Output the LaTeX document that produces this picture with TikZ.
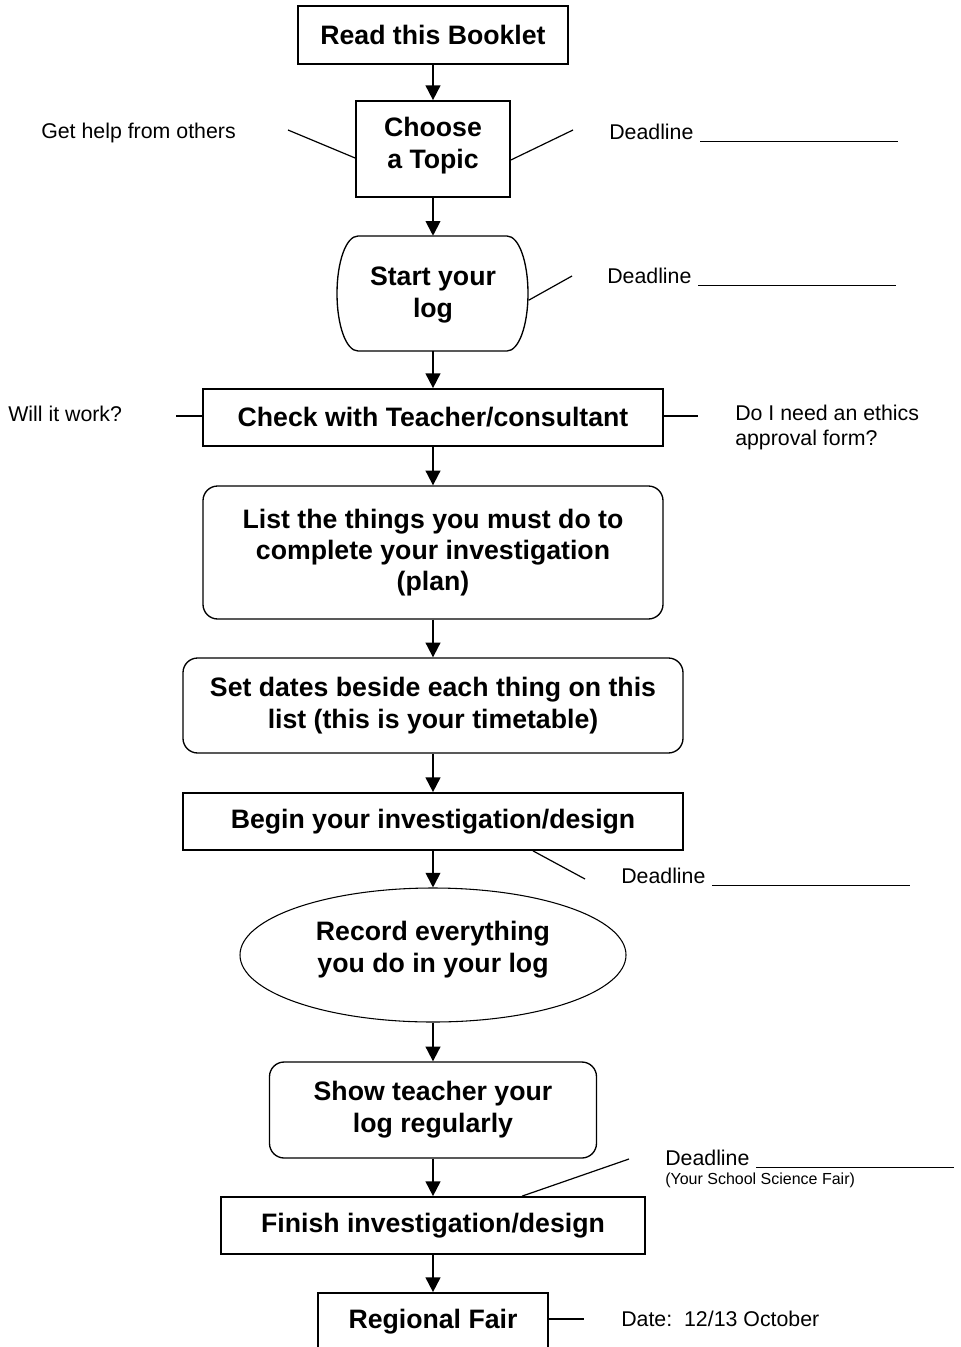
\documentclass[tikz,border=0pt]{standalone}
\usepackage{fontspec}
\setmainfont{Liberation Sans}
\usetikzlibrary{arrows.meta,shapes.geometric}

\begin{document}
\begin{tikzpicture}[x=0.75pt,y=-0.75pt,
    stepbox/.style={draw,line width=1.3pt,inner sep=0pt,align=center,
        font=\bfseries\fontsize{20}{24}\selectfont},
    roundbox/.style={stepbox,rounded corners=11pt,line width=1pt},
    boxtext/.style={inner sep=0pt,align=center,font=\bfseries\fontsize{20}{24}\selectfont},
    note/.style={inner sep=0pt,anchor=west,align=left,
        font=\fontsize{16}{18.75}\selectfont},
    arr/.style={line width=1.4pt,-{Triangle[length=11pt,width=11pt]}},
    tick/.style={line width=0.9pt},
    uline/.style={line width=1.2pt}]

    \clip (0,0) rectangle (961,1347);

    \node[stepbox,minimum width=202.5pt,minimum height=43.5pt] (read) at (433,35) {Read this Booklet};
    \node[stepbox,minimum width=115.5pt,minimum height=72pt] (choose) at (433,149) {};
    \node[boxtext] (choosetext) at (433,146) {Choose\\a Topic};
    \node[boxtext,minimum width=143.25pt,minimum height=86.25pt] (start) at (433,293.5) {};
    \node[boxtext] (starttext) at (433,295.5) {Start your\\log};
    \draw[line width=1pt] (358,236) -- (507,236) .. controls (519,236) and (528,262) .. (528,293.5)
        .. controls (528,325) and (519,351) .. (507,351) -- (358,351)
        .. controls (346,351) and (337,325) .. (337,293.5)
        .. controls (337,262) and (346,236) .. (358,236) -- cycle;
    \node[stepbox,minimum width=345pt,minimum height=42.75pt] (check) at (433,417.5) {Check with Teacher/consultant};
    \node[roundbox,minimum width=345pt,minimum height=99.75pt,
        font=\bfseries\fontsize{20}{23.25}\selectfont] (list) at (433,552.5)
        {List the things you must do to\\complete your investigation\\(plan)};
    \node[roundbox,minimum width=375pt,minimum height=71.25pt] (dates) at (433,705.5)
        {Set dates beside each thing on this\\list (this is your timetable)};
    \node[stepbox,minimum width=375pt,minimum height=42.75pt] (begin) at (433,821.5) {Begin your investigation/design};
    \node[ellipse,draw,line width=0.8pt,minimum width=289.5pt,minimum height=100.5pt] (record) at (433,955) {};
    \node[boxtext] (recordtext) at (433,950) {Record everything\\you do in your log};
    \node[roundbox,minimum width=245.25pt,minimum height=72pt] (show) at (433,1110)
        {Show teacher your\\log regularly};
    \node[stepbox,minimum width=318pt,minimum height=42.75pt] (finish) at (433,1225.5) {Finish investigation/design};
    \node[stepbox,minimum width=172.5pt,minimum height=42.75pt] (fair) at (433,1321.5) {};
    \node[boxtext] (fairtext) at (433,1322) {Regional Fair};

    \draw[arr] (read) -- (choose);
    \draw[arr] (choose) -- (start);
    \draw[arr] (start) -- (check);
    \draw[arr] (check) -- (list);
    \draw[arr] (list) -- (dates);
    \draw[arr] (dates) -- (begin);
    \draw[arr] (begin) -- (record);
    \draw[arr] (record) -- (show);
    \draw[arr] (show) -- (finish);
    \draw[arr] (finish) -- (fair);

    \node[note] (help) at (41,133) {Get help from others};
    \coordinate (helpend) at (288,130);
    \draw[tick] (helpend) -- ([yshift=-6.75pt]choose.west);

    \node[note] (dl1) at (609,132) {Deadline};
    \coordinate (dl1end) at (573,130);
    \draw[tick] ([yshift=-8.25pt]choose.east) -- (dl1end);
    \draw[uline] ([xshift=5pt,yshift=-1.5pt]dl1.base east) -- ++(198,0);

    \node[note] (dl2) at (607,276) {Deadline};
    \coordinate (dl2end) at (572,276);
    \draw[tick] ([yshift=-5pt]start.east) -- (dl2end);
    \draw[uline] ([xshift=5pt,yshift=-1.5pt]dl2.base east) -- ++(198,0);

    \node[note] (work) at (8,414) {Will it work?};
    \coordinate (workend) at (176,416);
    \draw[tick] (workend) -- (check.west |- workend);

    \node[note] (ethics) at (735,427.5) {Do I need an ethics\\approval form?};
    \coordinate (ethicsend) at (698,416);
    \draw[tick] (check.east |- ethicsend) -- (ethicsend);

    \node[note] (dl3) at (621,876) {Deadline};
    \coordinate (dl3end) at (585,879);
    \draw[tick] ([xshift=75pt]begin.south) -- (dl3end);
    \draw[uline] ([xshift=5pt,yshift=-1.5pt]dl3.base east) -- ++(198,0);

    \node[note] (dl4) at (665,1158) {Deadline};
    \node[note,font=\fontsize{12}{14}\selectfont] (school) at (665,1180) {(Your School Science Fair)};
    \coordinate (dl4end) at (629,1159);
    \draw[tick] ([xshift=66.75pt]finish.north) -- (dl4end);
    \draw[uline] ([xshift=5pt,yshift=-1.5pt]dl4.base east) -- ++(198,0);

    \node[note] (date) at (621,1319) {Date:\ \ 12/13 October};
    \coordinate (dateend) at (584,1319);
    \draw[tick] (fair.east |- dateend) -- (dateend);
\end{tikzpicture}
\end{document}
